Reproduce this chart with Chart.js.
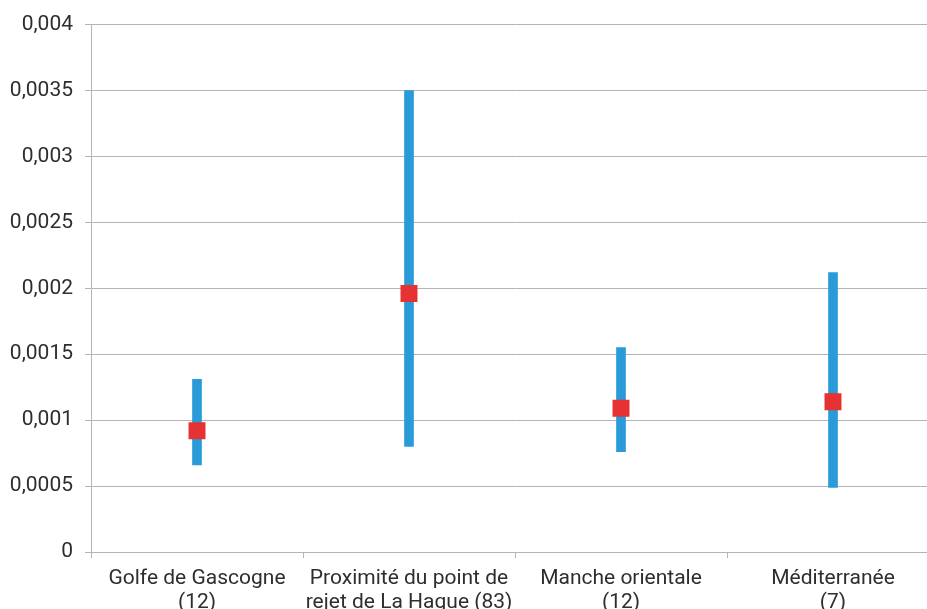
<!DOCTYPE html>
<html>
<head>
<meta charset="utf-8">
<script src="https://cdn.jsdelivr.net/npm/chart.js@4"></script>
<style>
  html, body { margin: 0; padding: 0; background: #fff; overflow: hidden; }
  #wrap { width: 927px; height: 609px; overflow: hidden; position: relative; }
  canvas { position: absolute; left: 0; top: 0; }
</style>
</head>
<body>
<div id="wrap"><canvas id="myChart" width="960" height="630"></canvas></div>
<script>
const categories = [
  ['Golfe de Gascogne', '(12)'],
  ['Proximité du point de', 'rejet de La Hague (83)'],
  ['Manche orientale', '(12)'],
  ['Méditerranée', '(7)']
];
const minValues = [0.00066, 0.00080, 0.00076, 0.00049];
const maxValues = [0.00131, 0.00350, 0.00155, 0.00212];
const meanValues = [0.00092, 0.00196, 0.00109, 0.00114];

const grey = '#b4b4b4';
const ctx = document.getElementById('myChart');

new Chart(ctx, {
  type: 'bar',
  data: {
    labels: categories,
    datasets: [{
      type: 'line',
      label: 'Moyenne',
      data: meanValues,
      showLine: false,
      pointStyle: 'rect',
      pointRadius: 12,
      pointBorderWidth: 0,
      pointBackgroundColor: '#e63232',
      pointBorderColor: '#e63232',
      order: 0
    }, {
      label: 'Min - Max',
      data: minValues.map((v, i) => [v, maxValues[i]]),
      backgroundColor: '#2a9ad8',
      borderWidth: 0,
      barThickness: 9,
      order: 1
    }]
  },
  options: {
    responsive: false,
    animation: false,
    layout: { padding: { top: 22, right: 21, left: 0, bottom: 0 } },
    plugins: { legend: { display: false }, tooltip: { enabled: false } },
    scales: {
      x: {
        offset: true,
        grid: { drawOnChartArea: false, color: grey, tickLength: 6, offset: true },
        border: { color: grey },
        ticks: { color: '#2e2e2e', font: { family: 'Roboto', size: 21, lineHeight: 1.13 }, padding: 9, maxRotation: 0, autoSkip: false },
        afterFit: (scale) => { scale.height = 78; }
      },
      y: {
        min: 0,
        max: 0.004,
        grid: { color: grey, tickLength: 6 },
        border: { color: grey },
        ticks: {
          stepSize: 0.0005,
          color: '#2e2e2e',
          padding: 12,
          font: { family: 'Roboto', size: 21 },
          callback: (v) => String(Number(v.toFixed(4))).replace('.', ',')
        },
        afterFit: (scale) => { scale.width = 91; }
      }
    }
  }
});
</script>
</body>
</html>
